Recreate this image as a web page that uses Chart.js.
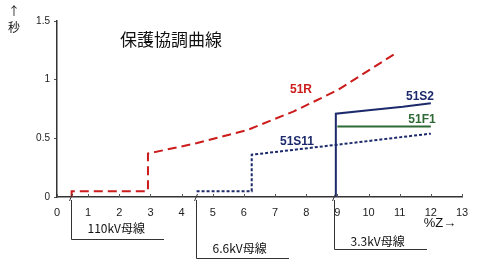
<!DOCTYPE html>
<html lang="ja">
<head>
<meta charset="UTF-8">
<title>保護協調曲線</title>
<script src="https://cdn.jsdelivr.net/npm/chart.js"></script>
<style>
  html, body { margin: 0; padding: 0; background: #fff; }
  #wrap { width: 485px; height: 271px; position: relative; }
</style>
</head>
<body>
<div id="wrap"><canvas id="chart" width="485" height="271"></canvas></div>
<script>
// series data (x = %Z, y = seconds)
const r51X = [0.47, 0.47, 2.92, 2.92, 4.5, 6.1, 7.6, 9.0, 10.9];
const r51Y = [0, 0.05, 0.05, 0.37, 0.46, 0.57, 0.73, 0.91, 1.23];
const s11X = [4.48, 6.25, 6.25, 12];
const s11Y = [0.05, 0.05, 0.36, 0.54];
const s2X = [8.95, 8.95, 10, 11.1, 12];
const s2Y = [0, 0.71, 0.74, 0.77, 0.80];
const f1X = [9.0, 12];
const f1Y = [0.6, 0.6];

const xTicks = [0, 1, 2, 3, 4, 5, 6, 7, 8, 9, 10, 11, 12, 13];
const yTicks = [0, 0.5, 1, 1.5];

// bus bars (x position on the %Z axis, label)
const busX = [0.45, 4.45, 8.9];
const busLabels = ['110kV母線', '6.6kV母線', '3.3kV母線'];

const pts = (xs, ys) => xs.map((x, i) => ({ x: x, y: ys[i] }));

const RED = '#cc1b1b', NAVY = '#1c2a6b', GREEN = '#2f6a35';
const JP = '"Noto Sans CJK JP", "Noto Sans", sans-serif';
const NARROW = '"Liberation Sans Narrow", "Liberation Sans", Arial, sans-serif';

const annotate = {
  id: 'annotate',
  afterDraw(chart) {
    const ctx = chart.ctx;
    const xs = chart.scales.x, ys = chart.scales.y;
    const px = v => xs.getPixelForValue(v);
    const py = v => ys.getPixelForValue(v);
    ctx.save();

    // title
    ctx.fillStyle = '#111';
    ctx.font = '17px ' + JP;
    ctx.textAlign = 'left';
    ctx.textBaseline = 'middle';
    ctx.fillText('保護協調曲線', 120, 40);

    // y unit
    ctx.font = '12px ' + JP;
    ctx.textAlign = 'center';
    ctx.fillText('↑', 14, 11);
    ctx.fillText('秒', 14, 27);

    // x unit
    ctx.font = '13px ' + NARROW;
    ctx.fillText('%Z→', 440, 223);

    // curve labels
    ctx.font = 'bold 12px ' + NARROW;
    ctx.fillStyle = RED;
    ctx.fillText('51R', 301, 90);
    ctx.fillStyle = NAVY;
    ctx.fillText('51S2', 420, 97);
    ctx.fillText('51S11', 297, 142);
    ctx.fillStyle = GREEN;
    ctx.fillText('51F1', 422, 120);

    // bus brackets
    const bottoms = [239, 258, 249];
    const ends = [164, 289, 427];
    const textY = [228, 248, 241];
    ctx.strokeStyle = '#333';
    ctx.lineWidth = 1;
    ctx.fillStyle = '#111';
    ctx.font = '12px ' + JP;
    ctx.textAlign = 'left';
    busX.forEach((b, i) => {
      const x = Math.round(px(b)) + 0.5;
      const y0 = py(0);
      // slash mark on the axis
      ctx.beginPath();
      ctx.moveTo(x - 2, y0 + 4);
      ctx.lineTo(x + 1, y0 - 3);
      ctx.stroke();
      ctx.beginPath();
      ctx.moveTo(x, y0 + 3);
      ctx.lineTo(x, bottoms[i] + 0.5);
      ctx.lineTo(ends[i], bottoms[i] + 0.5);
      ctx.stroke();
      ctx.fillText(busLabels[i], x + 16, textY[i]);
    });

    // small inward tick marks on the x axis
    ctx.strokeStyle = '#555';
    xTicks.forEach(v => {
      const x = Math.round(px(v)) + 0.5;
      ctx.beginPath();
      ctx.moveTo(x, py(0));
      ctx.lineTo(x, py(0) - 3);
      ctx.stroke();
    });
    ctx.restore();
  }
};

new Chart(document.getElementById('chart'), {
  type: 'scatter',
  data: {
    datasets: [
      { label: '51R', data: pts(r51X, r51Y), borderColor: RED, borderDash: [9, 5], borderWidth: 2 },
      { label: '51S11', data: pts(s11X, s11Y), borderColor: NAVY, borderDash: [3, 2], borderWidth: 2 },
      { label: '51S2', data: pts(s2X, s2Y), borderColor: NAVY, borderWidth: 2 },
      { label: '51F1', data: pts(f1X, f1Y), borderColor: GREEN, borderWidth: 2 }
    ].map(d => Object.assign(d, { showLine: true, pointRadius: 0, fill: false, tension: 0 }))
  },
  plugins: [annotate],
  options: {
    responsive: false,
    animation: false,
    layout: { padding: { left: 0, right: 23, top: 21, bottom: 0 } },
    plugins: { legend: { display: false }, tooltip: { enabled: false } },
    scales: {
      x: {
        type: 'linear', min: 0, max: 13,
        afterBuildTicks: s => { s.ticks = xTicks.map(v => ({ value: v })); },
        afterFit: s => { s.height = 74; },
        ticks: { color: '#222', font: { size: 11, family: NARROW }, padding: 1, maxRotation: 0 },
        grid: { display: false },
        border: { color: '#333', width: 1.5 }
      },
      y: {
        type: 'linear', min: 0, max: 1.5,
        afterBuildTicks: s => { s.ticks = yTicks.map(v => ({ value: v })); },
        afterFit: s => { s.width = 57; },
        ticks: { color: '#222', font: { size: 10, family: NARROW }, padding: 4, callback: v => String(v) },
        grid: { display: true, drawOnChartArea: false, tickLength: 3, color: '#555' },
        border: { color: '#333', width: 1.5 }
      }
    }
  }
});
</script>
</body>
</html>
